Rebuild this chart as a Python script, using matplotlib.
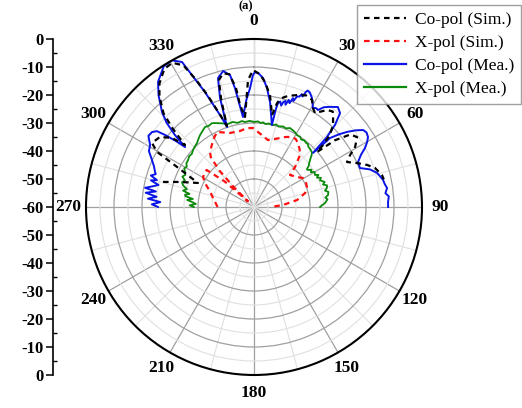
import numpy as np
import matplotlib
matplotlib.use("Agg")
import matplotlib.pyplot as plt
from matplotlib.ticker import MultipleLocator, FuncFormatter
from matplotlib.lines import Line2D

# angle in degrees (negative = left side, 0 = top), gain in dB
co_sim_ang = [-74.6, -71.3, -66.8, -62.5, -60.4, -57.9, -53.3, -49.9, -48.1, -46, -44,
              -40.5, -37.5, -33, -29.5, -26.5, -24.5, -22.5, -20, -18.5, -17, -15.5,
              -13, -10.5, -8.6, -7.8, -5.7, -2.7, -0.4, 2.5, 5.0, 8.1, 11.1, 12.5, 14,
              17, 21, 25, 28.5, 30.8, 33.0, 37.0, 39.5, 41.3, 43.9, 46.5, 48.1, 48.9,
              50.5, 53, 55.8, 59.3, 61.6, 64.2, 66.9, 69.6, 72.1, 76, 78]
co_sim_db = [-26.3, -32.1, -38.2, -29.0, -20.2, -17.0, -18.1, -21.7, -26.9, -19.5, -13.5,
             -8, -4.5, -1.2, -0.8, -3.5, -10, -17, -25.5, -29.5, -20, -13,
             -11, -11.8, -17.0, -23.2, -27.7, -14.6, -11.1, -12.5, -15.2, -19.6, -26.5, -22, -20,
             -18.5, -17.2, -16.0, -16.5, -18.9, -20.0, -16.6, -15.8, -17.2, -19.3, -22.6, -26.9, -30.1,
             -22.5, -17, -15.5, -18.0, -21.0, -23.1, -20.0, -16.9, -14.6, -12.9, -12.6]

x_sim_ang = [-90, -84, -77.6, -71, -67.6, -63.9, -59.5, -55, -52, -49, -47, -45.5, -43.5,
             -41, -38.7, -31.5, -26.3, -18, -10.4, -5.1, -0.7, 5, 11.8, 16, 20.6, 24.5,
             28.5, 31.5, 34.5, 38, 41.5, 45.7, 48.4, 55.1, 59.4, 64, 69.3, 74.7, 80.8, 86, 90]
x_sim_db = [-47, -46.2, -45, -43.5, -42.2, -40.5, -38.9, -38.5, -38.5, -46, -57, -50, -42,
            -36.5, -34.9, -32.0, -30.1, -32.2, -32.4, -31.7, -31.8, -33.8, -35.6, -34.8, -33.7, -32.5,
            -31.6, -31.5, -32.3, -33.6, -35.2, -39.5, -42.8, -41.3, -39.7, -39.4, -39.8, -41.1, -44.4, -49.6, -54]

co_mea_ang = [-90, -88.5, -87, -85.5, -84, -82.5, -81, -80, -78.5, -77, -75.5, -74.5, -73,
              -71.5, -70.5, -68, -65.3, -62, -59.2, -56, -53.7, -52, -51, -49.8, -49, -47.7,
              -46, -44.1, -40.5, -37.5, -32.7, -29.2, -26.4, -25.2, -23.1, -19.8, -18.6,
              -17.3, -15.6, -12.8, -10.3, -9.1, -7.0, -4, -1.9, -0.5, 0.4, 2, 4.0, 6.2, 8.7,
              12.3, 12.6, 13, 14, 15, 15.7, 16.5, 17.1, 18, 18.9, 19.7, 20.4, 21.3, 22.3, 23,
              23.7, 24.3, 24.8, 26, 28.0, 29.5, 30.8, 32, 33.4, 35, 37.2, 40.0, 42.5, 44.6,
              46.2, 47.5, 47.8, 49.5, 51.1, 53, 54.8, 56.5, 58.4, 60, 62.0, 64, 66.6, 69.8,
              72, 74.5, 76, 78.2, 80, 81.9, 84, 85.5, 87.9, 90]
co_mea_db = [-25.7, -23.5, -26.5, -22.0, -25.0, -21.0, -24.5, -20.5, -23.0, -25.0, -22.0, -24.0, -21.5,
             -23.0, -22.5, -21.5, -19.9, -17.5, -16.8, -14.5, -14.8, -16.0, -19.1, -23.5, -27.4, -21.8,
             -16.5, -12.8, -7.5, -3.7, -0.3, 0, -2.2, -7.9, -15.4, -26.2, -29.9,
             -19.2, -12.2, -10.2, -12.1, -17.0, -27.6, -21.5, -17.5, -13, -11.8, -12.3, -13.8, -17.2, -22.1,
             -30.0, -24, -22, -21.2, -22.5, -21.0, -20.5, -21.8, -19.8, -20.8, -18.7, -19.6, -17.6, -17.4, -16.2,
             -16.9, -14.8, -14.2, -14.5, -15.9, -17.5, -18.9, -18.3, -18.5, -16.5, -15.1, -13.4, -14.5, -18.8,
             -23.9, -31.4, -23.3, -20, -17.3, -14.5, -12.3, -11.8, -12.2, -13.3, -15.1, -17.5, -19.5, -19.7,
             -16.5, -14.4, -13.8, -12.9, -12.6, -12.0, -12.8, -11.7, -12.1, -12.1]

x_mea_ang = [-90, -88.5, -87, -85.4, -84, -82.5, -81, -79.9, -78.5, -77, -75, -73, -71, -69,
             -67, -65, -63.1, -61, -59, -57, -54.5, -52, -49.5, -46.9, -44.5, -41.7, -39.5,
             -36.9, -34.5, -31.5, -29, -26.6, -24, -21, -17.4, -14, -11, -8, -6, -3, 0, 2.7,
             4.5, 6.1, 8, 10, 13.0, 15, 17, 19.9, 22, 24.5, 26.9, 29, 31, 33.3, 35, 37, 39,
             40.6, 42, 44, 46.5, 48, 50.0, 51.5, 53, 54.5, 55.6, 57, 58.5, 60, 62.3, 63.5, 65,
             66.5, 68, 69.1, 70.5, 72, 73.5, 75.4, 77, 78.5, 80.8, 82.5, 84, 86.8, 88.5, 90]
x_mea_db = [-38.5, -37.0, -39.2, -37.8, -36.0, -38.0, -35.2, -35.0, -36.5, -34.0, -35.2, -33.5, -32.8, -33.6,
            -32.2, -32.9, -32.4, -31.5, -32.0, -31.2, -31.1, -30.6, -30.8, -30.2, -29.8, -29.4, -28.7,
            -27.9, -27.3, -26.5, -26.8, -26.5, -27.2, -28.0, -28.9, -28.7, -29.4, -29.0, -29.5, -29.2, -29.6, -29.4,
            -29.9, -29.6, -30.1, -29.7, -30.0, -29.5, -29.9, -29.4, -29.7, -29.0, -29.3, -29.6, -30.1, -30.0, -30.6, -30.2, -30.5,
            -30.4, -31.0, -31.2, -31.5, -32.3, -33.9, -34.8, -35.5, -36.8, -36.6, -35.5, -36.2, -35.0, -35.4, -34.3, -35.2,
            -33.9, -34.6, -34.0, -33.2, -34.1, -32.8, -33.1, -34.0, -32.9, -33.2, -34.3, -33.6, -34.6, -35.7, -36.4]

angle_labels = ['0', '30', '60', '90', '120', '150', '180', '210', '240', '270', '300', '330']

serif = 'Liberation Serif'
dash = (0, (2.5, 2))

fig = plt.figure(figsize=(5.22, 4.08), dpi=100)
ax = fig.add_axes([86 / 522, 33 / 408, 336 / 522, 336 / 408], projection='polar')
ax.set_theta_zero_location('N')
ax.set_theta_direction(-1)

# grid
ax.set_xticks(np.radians(np.arange(0, 360, 30)))
ax.set_xticklabels(angle_labels, fontfamily=serif, fontweight='bold', fontsize=12.5)
ax.xaxis.set_minor_locator(MultipleLocator(np.radians(15)))
ax.set_yticks([-50, -40, -30, -20, -10])
ax.yaxis.set_minor_locator(MultipleLocator(5))
ax.set_yticklabels([])
ax.grid(which='major', color='#a0a0a0', linewidth=0.9)
ax.grid(which='minor', color='#e0e0e0', linewidth=0.8)
ax.tick_params(axis='x', which='major', direction='in', length=6, width=1.2, pad=6)
ax.tick_params(axis='x', which='minor', direction='in', length=3, width=1.0)
ax.tick_params(axis='y', which='both', length=0)
ax.spines['polar'].set_linewidth(1.5)
ax.set_axisbelow(True)

ax.plot(np.radians(x_mea_ang), x_mea_db, color='#0c8a0c', lw=1.3)
ax.plot(np.radians(co_mea_ang), co_mea_db, color='#0a14e6', lw=1.4)
ax.plot(np.radians(co_sim_ang), co_sim_db, color='black', lw=1.6, ls=dash)
ax.plot(np.radians(x_sim_ang), x_sim_db, color='#ff1010', lw=1.6, ls=dash)
ax.set_ylim(-60, 0)

# left dB scale, Origin style: 0 at top, -60 at the centre, 0 at the bottom
ax2 = fig.add_axes([52.5 / 522, 33 / 408, 0.001, 336 / 408])
ax2.patch.set_visible(False)
ax2.set_ylim(-60, 60)
for s in ['right', 'top', 'bottom']:
    ax2.spines[s].set_visible(False)
ax2.spines['left'].set_linewidth(1.2)
ax2.set_xticks([])
ax2.yaxis.set_major_locator(MultipleLocator(10))
ax2.yaxis.set_minor_locator(MultipleLocator(5))
ax2.yaxis.set_major_formatter(FuncFormatter(lambda v, p: f"{abs(v) - 60:.0f}"))
ax2.tick_params(axis='y', which='major', direction='out', length=5, width=1.1, pad=1.5)
ax2.tick_params(axis='y', which='minor', direction='in', length=3, width=1.0)
for t in ax2.get_yticklabels():
    t.set_fontfamily(serif)
    t.set_fontweight('bold')
    t.set_fontsize(12)

handles = [Line2D([], [], color='black', lw=1.6, ls=dash),
           Line2D([], [], color='#ff1010', lw=1.6, ls=dash),
           Line2D([], [], color='#0a14e6', lw=1.6),
           Line2D([], [], color='#0c8a0c', lw=1.6)]
labels = ['Co-pol (Sim.)', 'X-pol (Sim.)', 'Co-pol (Mea.)', 'X-pol (Mea.)']
leg = fig.legend(handles, labels, loc='upper right', bbox_to_anchor=(0.999, 0.988),
                 prop={'family': serif, 'size': 12.5}, fancybox=False, edgecolor='#888888',
                 handlelength=2.4, handletextpad=0.55, labelspacing=0.4, borderpad=0.4,
                 borderaxespad=0.0)
leg.get_frame().set_linewidth(1.0)

fig.text(246 / 522, 1.0, '(a)', ha='center', va='top', fontfamily=serif,
         fontweight='bold', fontsize=9)

fig.savefig('out.png', dpi=100)
